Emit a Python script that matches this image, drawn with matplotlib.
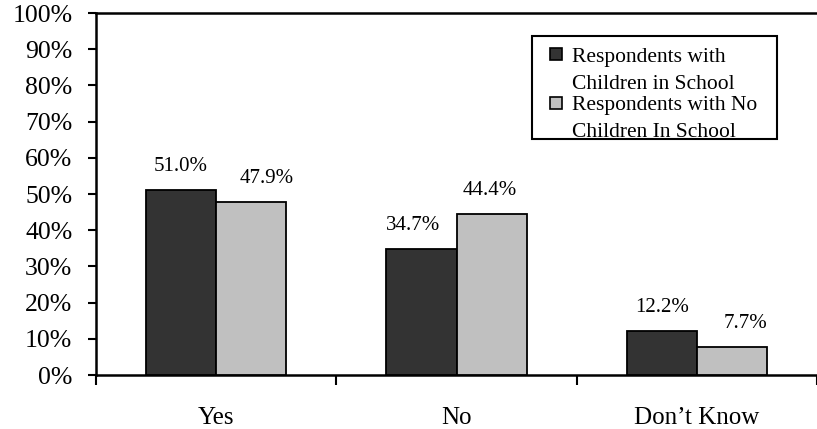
import matplotlib
matplotlib.use("Agg")
import matplotlib.pyplot as plt
from matplotlib.patches import Rectangle
import numpy as np

categories = ["Yes", "No", "Don\u2019t Know"]
with_children = [51.0, 34.7, 12.2]
no_children = [47.9, 44.4, 7.7]
series_names = ["Respondents with\nChildren in School", "Respondents with No\nChildren In School"]
ytick_values = list(range(0, 101, 10))

plt.rcParams['font.family'] = ['Liberation Serif', 'DejaVu Serif']

W, H = 817, 429
fig = plt.figure(figsize=(W / 100, H / 100), dpi=100)
ax = fig.add_axes([96 / W, 1 - 375 / H, 721 / W, 362 / H])

x = np.arange(len(categories))
bw = 0.2917
dark = "#333333"
light = "#c0c0c0"
ax.bar(x - bw / 2, with_children, bw, color=dark, edgecolor="black", linewidth=1.3, zorder=3)
ax.bar(x + bw / 2, no_children, bw, color=light, edgecolor="black", linewidth=1.3, zorder=3)

ax.set_xlim(-0.5, 2.5)
ax.set_ylim(0, 100)

# value labels (offsets in points, as in reference)
dx1 = [0, -6, 0]
dx2 = [11, -1, 10]
for i, v in enumerate(with_children):
    ax.annotate(f"{v:.1f}%", (x[i] - bw / 2, v), xytext=(dx1[i], 10), textcoords="offset points",
                ha="center", va="bottom", fontsize=15)
for i, v in enumerate(no_children):
    ax.annotate(f"{v:.1f}%", (x[i] + bw / 2, v), xytext=(dx2[i], 10), textcoords="offset points",
                ha="center", va="bottom", fontsize=15)

ax.set_yticks(ytick_values)
ax.set_yticklabels([f"{v}%" for v in ytick_values], fontsize=18.5)
ax.tick_params(axis="y", direction="out", length=6, width=1.5, pad=11)

ax.set_xticks(x)
ax.set_xticklabels(categories, fontsize=18)
ax.set_xticks(np.arange(-0.5, len(categories), 1.0), minor=True)
ax.tick_params(axis="x", which="major", length=0, pad=23)
ax.tick_params(axis="x", which="minor", direction="out", length=7, width=1.5)

for s in ["left", "bottom", "top"]:
    ax.spines[s].set_linewidth(1.8)
ax.spines["right"].set_visible(False)

# legend drawn manually
def fx(px):
    return px / W

def fy(py):
    return 1 - py / H

fig.patches.append(Rectangle((fx(532), fy(139)), (777 - 532) / W, (139 - 36) / H,
                             transform=fig.transFigure, facecolor="white", edgecolor="black",
                             linewidth=1.5, zorder=5))
colors = [dark, light]
sq_tops = [48, 97]
line_bases = [[62, 89], [110, 137]]
for k in range(2):
    fig.patches.append(Rectangle((fx(550), fy(sq_tops[k] + 12)), 12 / W, 12 / H,
                                 transform=fig.transFigure, facecolor=colors[k], edgecolor="black",
                                 linewidth=1.2, zorder=6))
    for j, line in enumerate(series_names[k].split("\n")):
        fig.text(fx(572), fy(line_bases[k][j]), line, fontsize=15.5, va="baseline", ha="left", zorder=6)

fig.savefig("out.png", dpi=100)
